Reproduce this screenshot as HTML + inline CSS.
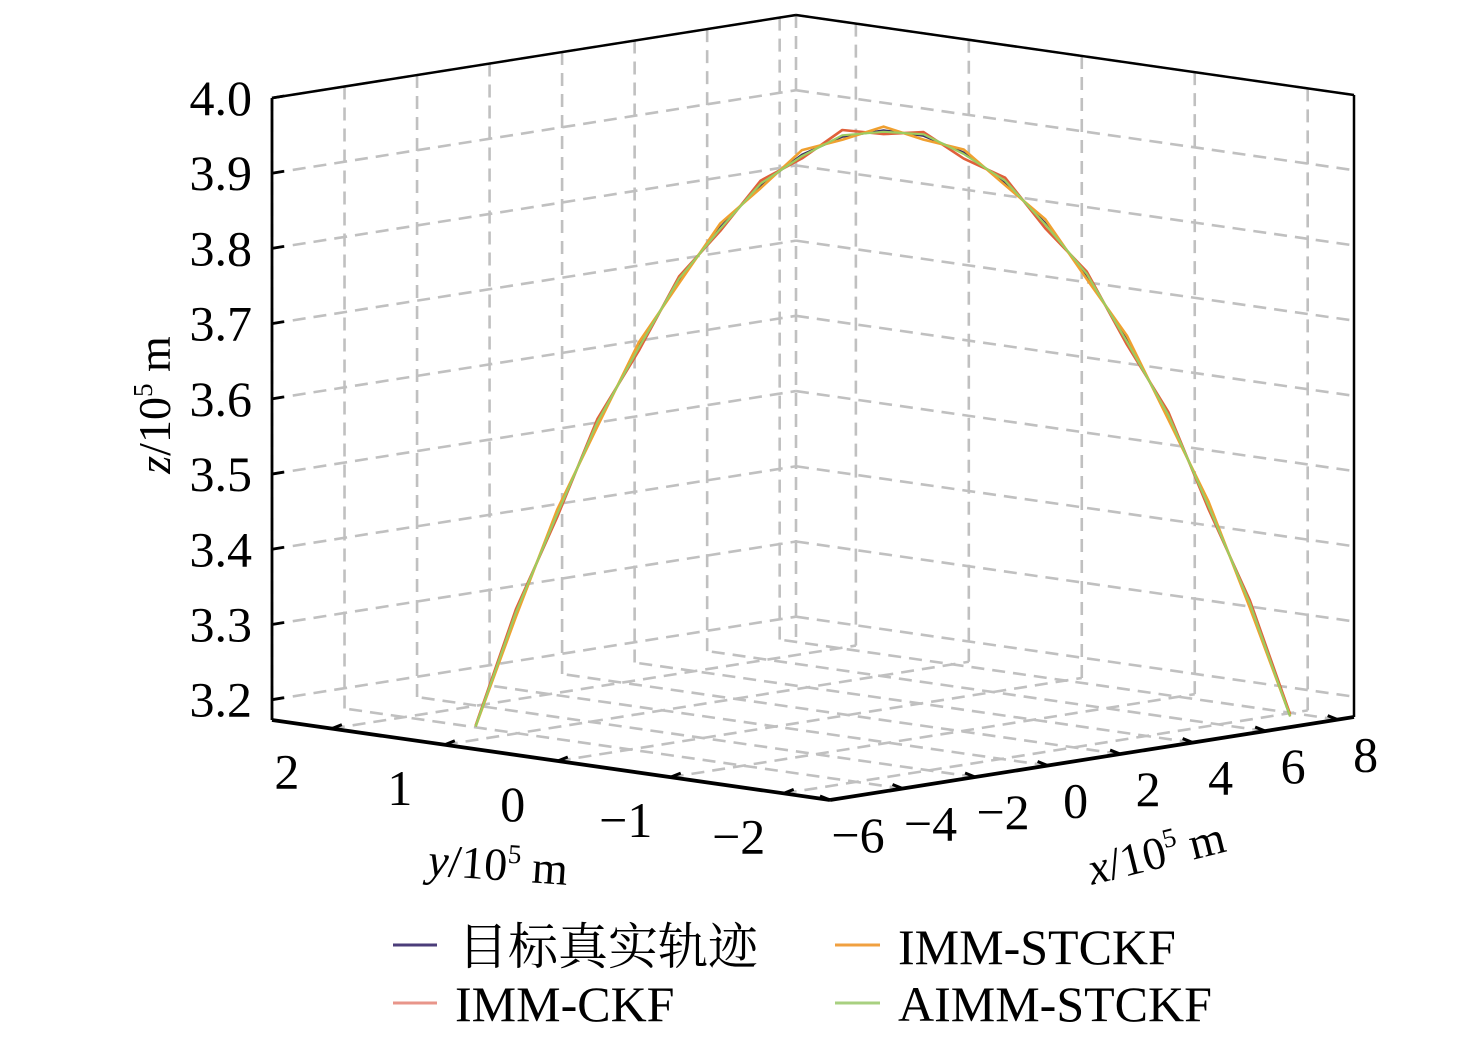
<!DOCTYPE html>
<html><head><meta charset="utf-8">
<style>
html,body{margin:0;padding:0;background:#fff;}
svg{display:block;font-family:"Liberation Serif","Noto Serif CJK SC",serif;}
</style></head>
<body>
<svg id="chart" width="1476" height="1053" viewBox="0 0 1476 1053" xmlns="http://www.w3.org/2000/svg">
<g id="grid"></g>
<g id="axes"></g>
<g id="series"></g>
<g id="labels"></g>
<text transform="translate(170,405) rotate(-90)" text-anchor="middle" font-size="46"><tspan font-style="italic">z</tspan>/10<tspan font-size="27" dy="-18">5</tspan><tspan dy="18"> m</tspan></text>
<text transform="translate(497,880) rotate(4)" text-anchor="middle" font-size="46"><tspan font-style="italic">y</tspan>/10<tspan font-size="27" dy="-18">5</tspan><tspan dy="18"> m</tspan></text>
<text transform="translate(1160,868) rotate(-14)" text-anchor="middle" font-size="46"><tspan font-style="italic">x</tspan>/10<tspan font-size="27" dy="-18">5</tspan><tspan dy="18"> m</tspan></text>
<g font-size="50">
 <g><line x1="393" y1="945" x2="437" y2="945" stroke="#4b3d7a" stroke-width="3"/><text x="458" y="964" font-family="'Liberation Serif','Noto Serif CJK SC',serif">目标真实轨迹</text></g>
 <g><line x1="393" y1="1003" x2="437" y2="1003" stroke="#e8958a" stroke-width="3"/><text x="455" y="1021">IMM-CKF</text></g>
 <g><line x1="835" y1="945" x2="880" y2="945" stroke="#f0a040" stroke-width="3"/><text x="898" y="964">IMM-STCKF</text></g>
 <g><line x1="835" y1="1003" x2="880" y2="1003" stroke="#a8d080" stroke-width="3"/><text x="898" y="1021">AIMM-STCKF</text></g>
</g>
</svg>
<script>
const xTicks=[-6,-4,-2,0,2,4,6,8];
const yTicks=[2,1,0,-1,-2];
const zTicks=[3.2,3.3,3.4,3.5,3.6,3.7,3.8,3.9,4.0];
const zTickLabels=["3.2","3.3","3.4","3.5","3.6","3.7","3.8","3.9","4.0"];
const xTickLabels=["\u22126","\u22124","\u22122","0","2","4","6","8"];
const yTickLabels=["2","1","0","\u22121","\u22122"];
const trackX=[-4.06,-3.48,-2.90,-2.32,-1.74,-1.16,-0.58,0.00,0.58,1.16,1.74,2.31,2.89,3.47,4.05,4.63,5.21,5.79,6.37,6.95,7.53];
const trackY=[1.35,1.18,1.00,0.83,0.65,0.48,0.30,0.13,-0.05,-0.22,-0.40,-0.57,-0.74,-0.92,-1.09,-1.27,-1.44,-1.62,-1.79,-1.97,-2.14];
const trueZ=[3.175,3.324,3.458,3.576,3.678,3.765,3.835,3.890,3.930,3.953,3.961,3.953,3.930,3.890,3.835,3.765,3.678,3.576,3.458,3.324,3.175];
const ckfZ=[3.176,3.330,3.452,3.582,3.672,3.770,3.830,3.896,3.925,3.962,3.956,3.958,3.922,3.896,3.828,3.770,3.672,3.582,3.452,3.330,3.178];
const stckfZ=[3.175,3.320,3.462,3.572,3.683,3.761,3.840,3.886,3.936,3.949,3.966,3.948,3.934,3.886,3.840,3.760,3.684,3.572,3.462,3.320,3.176];
const aimmZ=[3.175,3.326,3.456,3.578,3.676,3.767,3.833,3.892,3.928,3.955,3.959,3.955,3.928,3.892,3.833,3.767,3.676,3.578,3.456,3.326,3.175];

const XMIN=-6,XMAX=8.45,YMIN=-2.41,YMAX=2.53,ZMIN=3.173,ZMAX=4.0;
function P(x,y,z){const u=(x-XMIN)/(XMAX-XMIN),w=(y-YMIN)/(YMAX-YMIN),f=(z-ZMIN)/(ZMAX-ZMIN);
 return [830+524*u-558*w, 800-83*u-80*w-622*f];}
const NS='http://www.w3.org/2000/svg';
function mk(tag,parent,attrs){const e=document.createElementNS(NS,tag);for(const k in attrs)e.setAttribute(k,attrs[k]);parent.appendChild(e);return e;}
const grid=document.getElementById('grid'),axes=document.getElementById('axes'),ser=document.getElementById('series'),lab=document.getElementById('labels');
function gl(a,b){const l=mk('line',grid,{x1:a[0],y1:a[1],x2:b[0],y2:b[1],stroke:'#c0c0c0','stroke-width':2.6,'stroke-dasharray':'13,8'});
 
 }
xTicks.forEach(x=>{gl(P(x,YMAX,ZMIN),P(x,YMAX,ZMAX));gl(P(x,YMIN,ZMIN),P(x,YMAX,ZMIN));});
yTicks.forEach(y=>{gl(P(XMAX,y,ZMIN),P(XMAX,y,ZMAX));gl(P(XMIN,y,ZMIN),P(XMAX,y,ZMIN));});
zTicks.forEach(z=>{gl(P(XMIN,YMAX,z),P(XMAX,YMAX,z));gl(P(XMAX,YMAX,z),P(XMAX,YMIN,z));});
gl(P(XMAX,YMAX,ZMIN),P(XMAX,YMAX,ZMAX));
function al(a,b,w,name){const l=mk('line',axes,{x1:a[0],y1:a[1],x2:b[0],y2:b[1],stroke:'#000','stroke-width':w});
 
 }
al(P(XMIN,YMAX,ZMIN),P(XMIN,YMAX,ZMAX),2.8,'z-axis-line');
al(P(XMIN,YMAX,ZMAX),P(XMAX,YMAX,ZMAX),2.5,'top-back-left-edge');
al(P(XMAX,YMAX,ZMAX),P(XMAX,YMIN,ZMAX),2.5,'top-back-right-edge');
al(P(XMAX,YMIN,ZMIN),P(XMAX,YMIN,ZMAX),2.5,'right-edge');
al(P(XMIN,YMAX,ZMIN),P(XMIN,YMIN,ZMIN),3.8,'y-axis-line');
al(P(XMIN,YMIN,ZMIN),P(XMAX,YMIN,ZMIN),3.8,'x-axis-line');
zTicks.forEach((z,i)=>{const p=P(XMIN,YMAX,z);
 al(p,[p[0]+12,p[1]-2],2.8,'z-tick');
 const t=mk('text',lab,{x:p[0]-20,y:p[1]+17,'text-anchor':'end','font-size':50});t.textContent=zTickLabels[i];
 
 });
yTicks.forEach((y,i)=>{const p=P(XMIN,y,ZMIN);
 al(p,[p[0]+10,p[1]-4],3,'y-tick');
 const t=mk('text',lab,{x:p[0]-45,y:p[1]+60,'text-anchor':'middle','font-size':50});t.textContent=yTickLabels[i];
 
 });
xTicks.forEach((x,i)=>{const p=P(x,YMIN,ZMIN);
 al(p,[p[0]-10,p[1]-4],3,'x-tick');
 const t=mk('text',lab,{x:p[0]+28,y:p[1]+52,'text-anchor':'middle','font-size':50});t.textContent=xTickLabels[i];
 
 });
function line(zs,color,w,name){const d=zs.map((z,i)=>{const p=P(trackX[i],trackY[i],z);return (i?'L':'M')+p[0].toFixed(1)+','+p[1].toFixed(1);}).join('');
 const e=mk('path',ser,{d:d,fill:'none',stroke:color,'stroke-width':w,'stroke-linejoin':'round'});
 
 }
line(trueZ,'#3a3060',2.2,'series-true-trajectory');
line(ckfZ,'#e0603a',2.6,'series-imm-ckf');
line(stckfZ,'#f0a030',2.6,'series-imm-stckf');
line(aimmZ,'#9ccc60',2.2,'series-aimm-stckf');
</script>
</body></html>
